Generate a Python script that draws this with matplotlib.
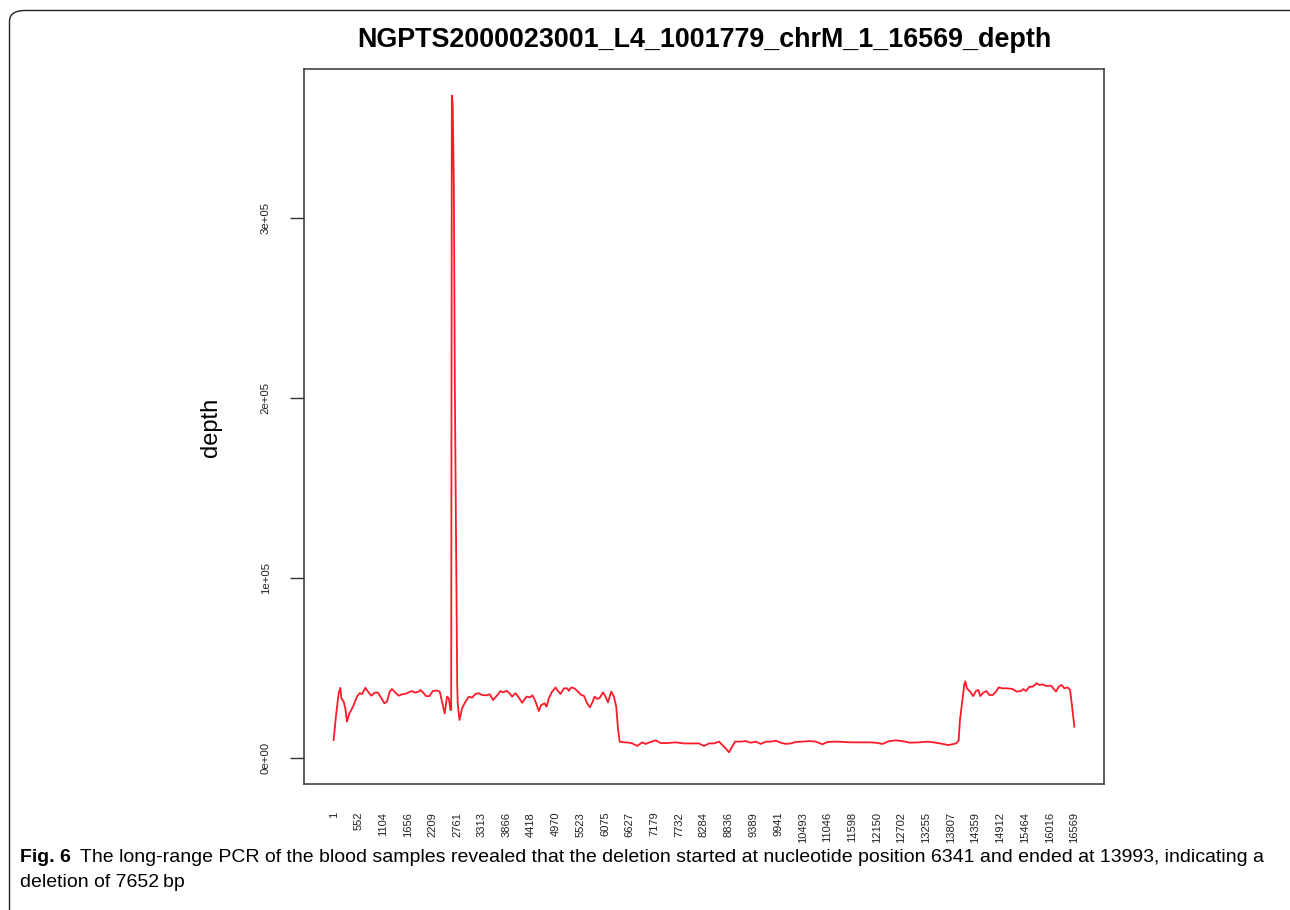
import matplotlib
matplotlib.use('Agg')
import matplotlib.pyplot as plt
import matplotlib.patches as mpatches

# depth along chrM
positions = [1, 52, 113, 151, 173, 225, 263, 299, 353, 397, 449, 523, 583, 635, 711,
             785, 845, 919, 993, 1047, 1136, 1194, 1255, 1306, 1382, 1456, 1530, 1606,
             1680, 1754, 1815, 1904, 1942, 2016, 2068, 2144, 2218, 2314, 2374, 2426,
             2486, 2538, 2576, 2614, 2630, 2645, 2655, 2665, 2690, 2712, 2765, 2777,
             2815, 2874, 2950, 3024, 3098, 3174, 3248, 3321, 3411, 3494, 3568, 3644,
             3733, 3792, 3868, 3935, 3993, 4069, 4121, 4217, 4316, 4389, 4450, 4517,
             4591, 4642, 4718, 4763, 4815, 4889, 4965, 5016, 5077, 5151, 5225, 5262,
             5314, 5390, 5464, 5538, 5598, 5672, 5733, 5784, 5838, 5896, 5957, 6024,
             6084, 6136, 6210, 6270, 6322, 6360, 6398, 6494, 6584, 6680, 6792, 6904,
             6980, 7092, 7204, 7316, 7464, 7652, 7837, 8061, 8173, 8285, 8397, 8509,
             8621, 8733, 8845, 8979, 9107, 9219, 9331, 9443, 9555, 9667, 9779, 9891,
             10003, 10115, 10227, 10338, 10486, 10636, 10786, 10934, 11046, 11234,
             11382, 11570, 11756, 11979, 12130, 12278, 12427, 12577, 12725, 12890,
             13099, 13285, 13473, 13755, 13921, 13979, 14010, 14055, 14106, 14129,
             14167, 14234, 14308, 14369, 14420, 14465, 14532, 14606, 14666, 14740,
             14816, 14875, 14964, 15076, 15188, 15278, 15376, 15428, 15488, 15562,
             15636, 15725, 15786, 15860, 15936, 16047, 16099, 16159, 16218, 16285,
             16345, 16419, 16473, 16518, 16569]

depth = [10000, 23000, 36000, 39000, 33200, 31300, 27600, 20200, 24800, 26700, 29400,
         34100, 36000, 35500, 39000, 36300, 34600, 36300, 36300, 34100, 30400, 31300,
         36900, 38300, 36300, 34600, 35400, 35600, 36500, 37200, 36300, 36900, 37800,
         36000, 34400, 34400, 37200, 37500, 36900, 31300, 24700, 34100, 33200, 26700,
         26700, 368000, 366000, 362000, 318000, 207000, 40000, 30400,
         21100, 27600, 31300, 34100, 33500, 35600, 36000, 35000, 34800, 35400, 32200,
         34400, 37200, 36500, 37300, 36000, 34100, 36000, 34400, 30700, 34100, 33700,
         34800, 31300, 26100, 29400, 30400, 28500, 33200, 36900, 39200, 37300, 35600,
         38700, 38700, 37300, 39200, 38700, 36900, 35000, 34600, 30400, 28200, 30700,
         34100, 32800, 33500, 36500, 34100, 30900, 36900, 34100, 28500, 16500, 9100,
         8700, 8600, 8100, 6700, 8700, 7800, 8900, 9800, 8300, 8300, 8700, 8100, 8100,
         8100, 6700, 8100, 8100, 9100, 6300, 3200, 9100, 9100, 9400, 8500, 9100, 7800,
         9100, 9100, 9600, 8500, 7800, 8100, 8900, 9100, 9400, 9100, 7600, 8900, 9100,
         8900, 8700, 8700, 8700, 8500, 7800, 9400, 9800, 9400, 8500, 8700, 9100, 8500,
         7200, 8100, 9600, 21100, 30400, 40600, 42600, 38700, 36900, 34400, 37300,
         37800, 34400, 36300, 37200, 35000, 35000, 36900, 39200, 38700, 38700, 38300,
         36900, 37200, 38300, 37200, 39600, 39600, 41500, 40600, 40900, 40000, 40200,
         38700, 36900, 39600, 40600, 38700, 39200, 37800, 28500, 17400]

xtick_labels = ['1', '552', '1104', '1656', '2209', '2761', '3313', '3866', '4418',
                '4970', '5523', '6075', '6627', '7179', '7732', '8284', '8836', '9389',
                '9941', '10493', '11046', '11598', '12150', '12702', '13255', '13807',
                '14359', '14912', '15464', '16016', '16569']
ytick_values = [0, 100000, 200000, 300000]
ytick_labels = ['0e+00', '1e+05', '2e+05', '3e+05']

title = 'NGPTS2000023001_L4_1001779_chrM_1_16569_depth'
caption_bold = 'Fig. 6'
caption_line1 = ('The long-range PCR of the blood samples revealed that the deletion started '
                 'at nucleotide position 6341 and ended at 13993, indicating a')
caption_line2 = 'deletion of 7652\u2009bp'

plt.rcParams['font.family'] = ['Liberation Sans', 'DejaVu Sans']

W, H = 1290, 910
fig = plt.figure(figsize=(W / 100, H / 100), dpi=100)

# rounded frame of the figure panel (cut by right and bottom edges)
frame = mpatches.FancyBboxPatch((9.5 / W, -0.1), 1.2, 1.1 - 10.5 / H,
                                boxstyle='round,pad=0,rounding_size=0.012',
                                transform=fig.transFigure, fill=False,
                                edgecolor='#222222', linewidth=1.0)
fig.patches.append(frame)

ax = fig.add_axes([304 / W, 1 - 784 / H, 800 / W, 715 / H])
ax.plot(positions, depth, color='#ff1a2a', linewidth=1.3)

n = 16569
ax.set_xlim(1 - 0.04 * (n - 1), n + 0.04 * (n - 1))
ax.set_ylim(-14444, 382778)

xt = [int(s) for s in xtick_labels]
ax.set_xticks(xt)
ax.set_xticklabels(xtick_labels, rotation=90, fontsize=8, color='#222222')
ax.tick_params(axis='x', length=0, pad=20)

ax.set_yticks(ytick_values)
ax.set_yticklabels(ytick_labels, rotation=90, va='center', fontsize=8.2, color='#222222')
ax.tick_params(axis='y', length=10, width=1.0, color='#333333', pad=14)

for sp in ax.spines.values():
    sp.set_linewidth(1.1)
    sp.set_color('#333333')

fig.text(704 / W, 1 - 46.7 / H, title, ha='center', va='baseline',
         fontsize=19.4, fontweight='bold')
fig.text(211 / W, 1 - 427 / H, 'depth', rotation=90, ha='center', va='center',
         fontsize=17)

cap_size = 14.0
tb = fig.text(20 / W, 1 - 862 / H, caption_bold, ha='left', va='baseline',
              fontsize=cap_size, fontweight='bold')
fig.canvas.draw()
bb = tb.get_window_extent()
fig.text((bb.x1 + 9) / W, 1 - 862 / H, caption_line1, ha='left', va='baseline',
         fontsize=cap_size)
fig.text(20 / W, 1 - 887 / H, caption_line2, ha='left', va='baseline',
         fontsize=cap_size)

fig.savefig('out.png', dpi=100)
